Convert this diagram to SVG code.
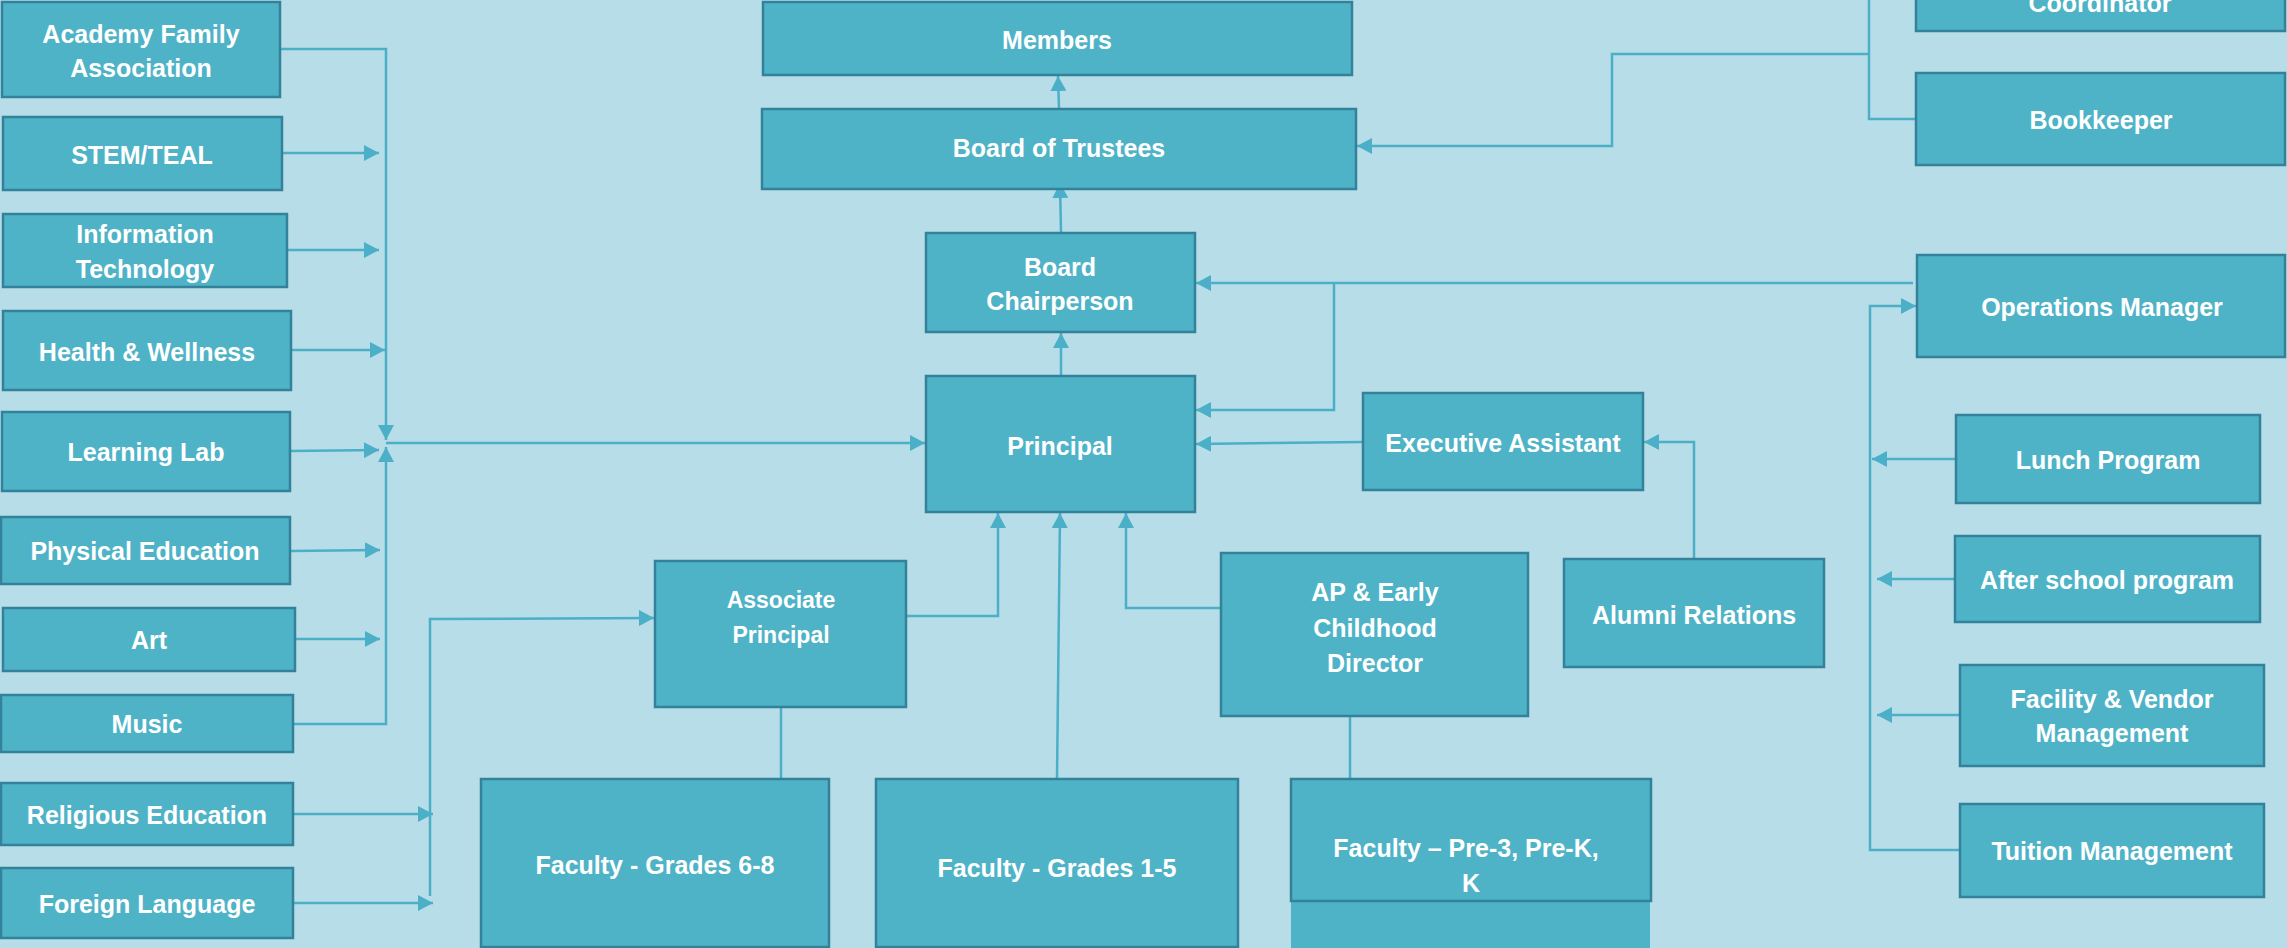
<svg xmlns="http://www.w3.org/2000/svg" width="2287" height="948" viewBox="0 0 2287 948">
<style>
.bg{fill:#B7DDE8}
.box{fill:#4FB3C7;stroke:#33829A;stroke-width:2.5}
.fillonly{fill:#4FB3C7}
.t{font-family:"Liberation Sans",Arial,sans-serif;font-weight:bold;font-size:25px;fill:#FFFFFF;text-anchor:middle}
.ts{font-size:23px}
.c{fill:none;stroke:#4BAFC8;stroke-width:2.5}
.a{marker-end:url(#arr)}
</style>
<defs>
<marker id="arr" markerUnits="userSpaceOnUse" markerWidth="16" markerHeight="16" refX="15" refY="8" orient="auto">
<path d="M0,0 L15,8 L0,16 z" fill="#4BAFC8"/>
</marker>
</defs>
<rect class="bg" x="0" y="0" width="2287" height="948"/>

<g id="connectors">
<polyline class="c a" points="280,49 386,49 386,440"/>
<polyline class="c a" points="282,153 379,153"/>
<polyline class="c a" points="287,250 379,250"/>
<polyline class="c a" points="291,350 385,350"/>
<polyline class="c a" points="290,451 379,450"/>
<polyline class="c a" points="290,551 380,550"/>
<polyline class="c a" points="295,639 380,639"/>
<polyline class="c a" points="293,724 386,724 386,447"/>
<polyline class="c a" points="386,443 925,443"/>
<polyline class="c a" points="293,814 433,814"/>
<polyline class="c a" points="293,903 433,903"/>
<polyline class="c a" points="430,896 430,619 654,618"/>
<polyline class="c a" points="906,616 998,616 998,513"/>
<polyline class="c a" points="1057,779 1060,513"/>
<polyline class="c a" points="1221,608 1126,608 1126,513"/>
<polyline class="c" points="781,707 781,779"/>
<polyline class="c" points="1350,716 1350,779"/>
<polyline class="c a" points="1061,376 1061,333"/>
<polyline class="c a" points="1061,233 1060,183"/>
<polyline class="c a" points="1059,109 1058,76"/>
<polyline class="c a" points="1363,442 1196,444"/>
<polyline class="c a" points="1913,283 1196,283"/>
<polyline class="c a" points="1334,283 1334,410 1196,410"/>
<polyline class="c a" points="1694,559 1694,442 1644,442"/>
<polyline class="c" points="1869,0 1869,119 1916,119"/>
<polyline class="c a" points="1869,54 1612,54 1612,146 1357,146"/>
<polyline class="c a" points="1960,850 1870,850 1870,306 1916,306"/>
<polyline class="c a" points="1956,459 1872,459"/>
<polyline class="c a" points="1955,579 1877,579"/>
<polyline class="c a" points="1960,715 1877,715"/>
</g>

<g id="academy-family"><rect class="box" x="2" y="2" width="278" height="95"/><text class="t" x="141" y="43">Academy Family</text><text class="t" x="141" y="77">Association</text></g>
<g id="stem"><rect class="box" x="3" y="117" width="279" height="73"/><text class="t" x="142" y="164">STEM/TEAL</text></g>
<g id="it"><rect class="box" x="3" y="214" width="284" height="73"/><text class="t" x="145" y="243">Information</text><text class="t" x="145" y="278">Technology</text></g>
<g id="health"><rect class="box" x="3" y="311" width="288" height="79"/><text class="t" x="147" y="361">Health &amp; Wellness</text></g>
<g id="learning-lab"><rect class="box" x="2" y="412" width="288" height="79"/><text class="t" x="146" y="461">Learning Lab</text></g>
<g id="pe"><rect class="box" x="1" y="517" width="289" height="67"/><text class="t" x="145" y="560">Physical Education</text></g>
<g id="art"><rect class="box" x="3" y="608" width="292" height="63"/><text class="t" x="149" y="649">Art</text></g>
<g id="music"><rect class="box" x="1" y="695" width="292" height="57"/><text class="t" x="147" y="733">Music</text></g>
<g id="religious"><rect class="box" x="1" y="783" width="292" height="62"/><text class="t" x="147" y="824">Religious Education</text></g>
<g id="foreign"><rect class="box" x="1" y="868" width="292" height="70"/><text class="t" x="147" y="913">Foreign Language</text></g>

<g id="members"><rect class="box" x="763" y="2" width="589" height="73"/><text class="t" x="1057" y="49">Members</text></g>
<g id="trustees"><rect class="box" x="762" y="109" width="594" height="80"/><text class="t" x="1059" y="157">Board of Trustees</text></g>
<g id="chair"><rect class="box" x="926" y="233" width="269" height="99"/><text class="t" x="1060" y="276">Board</text><text class="t" x="1060" y="310">Chairperson</text></g>
<g id="principal"><rect class="box" x="926" y="376" width="269" height="136"/><text class="t" x="1060" y="455">Principal</text></g>
<g id="exec-assistant"><rect class="box" x="1363" y="393" width="280" height="97"/><text class="t" x="1503" y="452">Executive Assistant</text></g>
<g id="assoc-principal"><rect class="box" x="655" y="561" width="251" height="146"/><text class="t ts" x="781" y="608">Associate</text><text class="t ts" x="781" y="643">Principal</text></g>
<g id="ap-early"><rect class="box" x="1221" y="553" width="307" height="163"/><text class="t" x="1375" y="601">AP &amp; Early</text><text class="t" x="1375" y="637">Childhood</text><text class="t" x="1375" y="672">Director</text></g>
<g id="alumni"><rect class="box" x="1564" y="559" width="260" height="108"/><text class="t" x="1694" y="624">Alumni Relations</text></g>
<g id="fac-68"><rect class="box" x="481" y="779" width="348" height="168"/><text class="t" x="655" y="874">Faculty - Grades 6-8</text></g>
<g id="fac-15"><rect class="box" x="876" y="779" width="362" height="168"/><text class="t" x="1057" y="877">Faculty - Grades 1-5</text></g>
<g id="fac-pre"><rect class="fillonly" x="1291" y="900" width="359" height="48"/><rect class="box" x="1291" y="779" width="360" height="122"/><text class="t" x="1466" y="857">Faculty –  Pre-3, Pre-K,</text><text class="t" x="1471" y="892">K</text></g>

<g id="coordinator"><rect class="box" x="1916" y="-40" width="369" height="71"/><text class="t" x="2100" y="12">Coordinator</text></g>
<g id="bookkeeper"><rect class="box" x="1916" y="73" width="369" height="92"/><text class="t" x="2101" y="129">Bookkeeper</text></g>
<g id="operations"><rect class="box" x="1917" y="255" width="368" height="102"/><text class="t" x="2102" y="316">Operations Manager</text></g>
<g id="lunch"><rect class="box" x="1956" y="415" width="304" height="88"/><text class="t" x="2108" y="469">Lunch Program</text></g>
<g id="after-school"><rect class="box" x="1955" y="536" width="305" height="86"/><text class="t" x="2107" y="589">After school program</text></g>
<g id="facility"><rect class="box" x="1960" y="665" width="304" height="101"/><text class="t" x="2112" y="708">Facility &amp; Vendor</text><text class="t" x="2112" y="742">Management</text></g>
<g id="tuition"><rect class="box" x="1960" y="804" width="304" height="93"/><text class="t" x="2112" y="860">Tuition Management</text></g>
</svg>
